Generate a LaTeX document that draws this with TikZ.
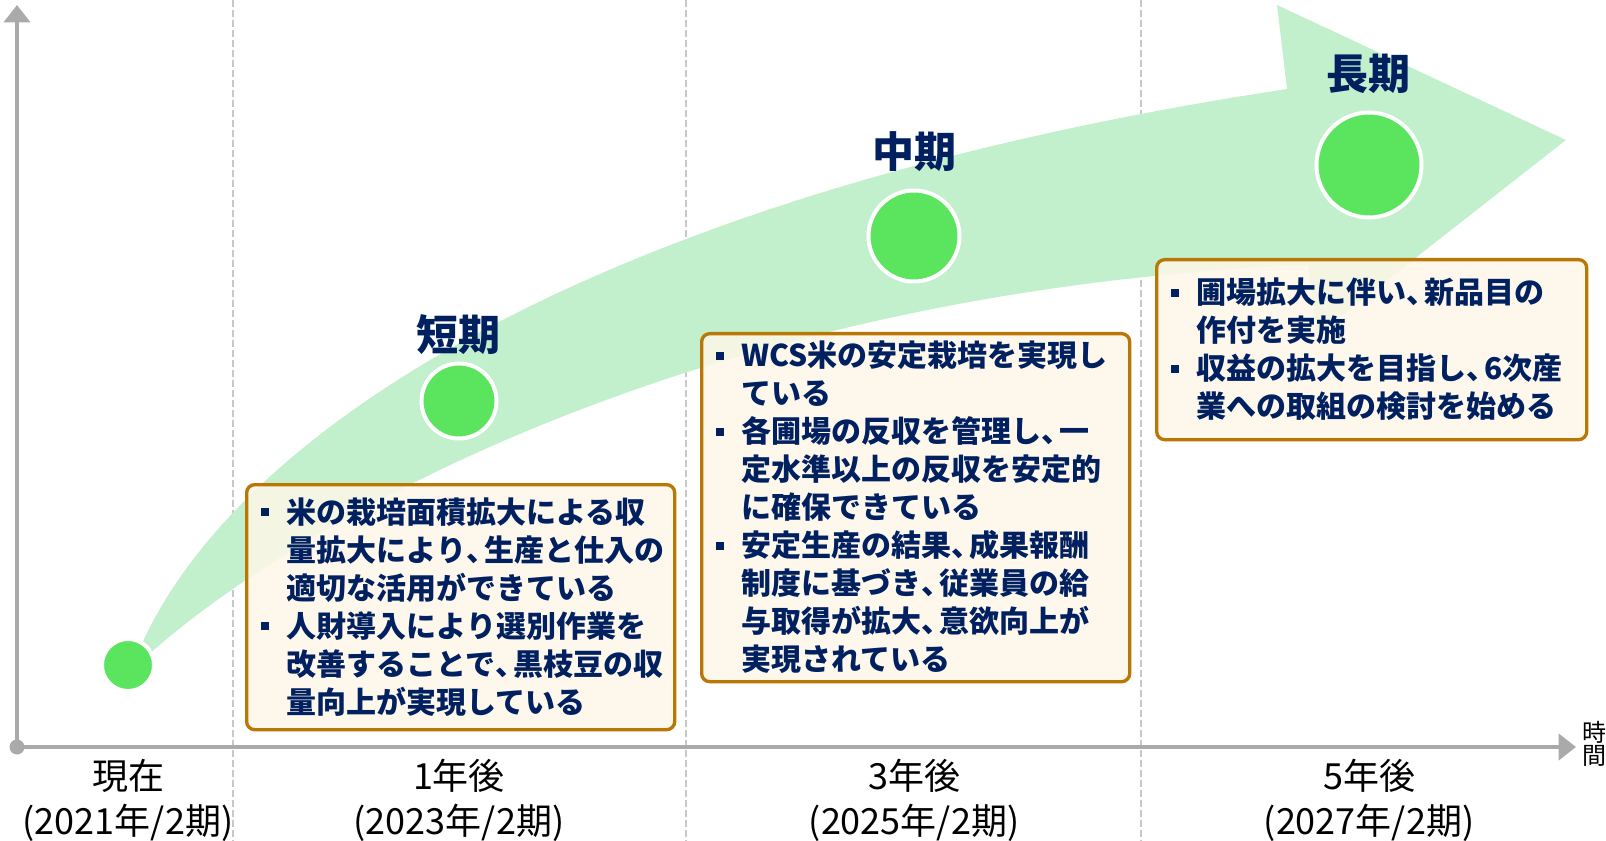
\documentclass[tikz,border=0pt]{standalone}
\usepackage{fontspec}
\setmainfont{Noto Sans CJK JP}
\usetikzlibrary{arrows.meta}

\definecolor{navy}{RGB}{0,32,96}
\definecolor{arrowgreen}{RGB}{195,240,204}
\definecolor{dotgreen}{RGB}{91,228,94}
\definecolor{memoline}{RGB}{185,120,5}
\definecolor{memofill}{RGB}{254,246,233}
\definecolor{axisgray}{RGB}{170,170,170}
\definecolor{dashgray}{RGB}{200,200,200}

\newcommand{\bul}{\leavevmode\llap{\raisebox{5.5pt}{\rule{6pt}{6pt}}\hspace{13.5pt}}}
\newcommand{\tou}{\makebox[0.6em][l]{、}}

\begin{document}
\begin{tikzpicture}[x=0.75pt,y=0.75pt,yscale=-1,xscale=1,
  memo/.style={draw=memoline, line width=2.5pt, rounded corners=6pt, fill=memofill, fill opacity=0.85, text opacity=1, text=navy, font=\bfseries\fontsize{22.5}{28.5}\selectfont, align=left, inner xsep=30pt, inner ysep=0pt, anchor=north west},
  milestone/.style={circle, fill=dotgreen, draw=white, line width=3pt, inner sep=0pt},
  term/.style={text=navy, font=\bfseries\fontsize{31.5}{31.5}\selectfont, inner sep=0.75pt},
  period/.style={align=center, font=\fontsize{27}{33.75}\selectfont, inner sep=0.75pt},
  axis/.style={draw=axisgray, line width=3pt, -{Triangle[length=13pt,width=19.5pt]}},
  grid/.style={draw=dashgray, line width=1.5pt, dash pattern=on 5.25pt off 2.25pt}]
\useasboundingbox (0,0) rectangle (1606,841);

%Straight Lines: year separators
\foreach \xx in {233,686,1141}
  \draw [grid] (\xx,0) -- (\xx,841) ;

%Shape: Curved Arrow
\fill [arrowgreen] (140,648) .. controls (240,420) and (620,190) .. (1287,89) -- (1277,5) -- (1566,140) -- (1317,335) -- (1308,265) .. controls (700,290) and (300,520) .. (148,655) -- cycle ;

%Axes
\coordinate (o) at (17,747);
\coordinate (ytop) at (17,5);
\coordinate (xend) at (1576,747);
\draw [axis] (o) -- (ytop) ;
\draw [axis] (o) -- (xend) ;
\fill [axisgray] (o) circle (7.5) ;

%Shape: Circles
\node [milestone, minimum size=39pt] (now) at (128,665) {};
\node [milestone, minimum size=56.25pt] (short) at (459,401) {};
\node [milestone, minimum size=68.25pt] (mid) at (914,236) {};
\node [milestone, minimum size=78.75pt] (long) at (1369,165) {};

% Text Node
\node [term] (shortlbl) at (458,335) {短期};
\node [term] (midlbl) at (914,152) {中期};
\node [term] (longlbl) at (1368,74) {長期};

%Shape: Rounded Rectangles
\node [memo, text width=261pt, minimum height=183.75pt] (memo1) at (245,483) {%
\bul 米の栽培面積拡大による収\\
量拡大により\tou 生産と仕入の\\
適切な活用ができている\\
\bul 人財導入により選別作業を\\
改善することで\tou 黒枝豆の収\\
量向上が実現している};
\node [memo, text width=261pt, minimum height=261pt] (memo2) at (700,332) {%
\bul WCS米の安定栽培を実現し\\
ている\\
\bul 各圃場の反収を管理し\tou 一\\
定水準以上の反収を安定的\\
に確保できている\\
\bul 安定生産の結果\tou 成果報酬\\
制度に基づき\tou 従業員の給\\
与取得が拡大\tou 意欲向上が\\
実現されている};
\node [memo, text width=262.5pt, minimum height=135pt] (memo3) at (1155,258) {%
\bul 圃場拡大に伴い\tou 新品目の\\
作付を実施\\
\bul 収益の拡大を目指し\tou 6次産\\
業への取組の検討を始める};

% Text Node
\node [period] (p0) at (128,800) {現在\\(2021年/2期)};
\node [period] (p1) at (459,800) {1年後\\(2023年/2期)};
\node [period] (p3) at (914,800) {3年後\\(2025年/2期)};
\node [period] (p5) at (1369,800) {5年後\\(2027年/2期)};
\node [align=center, font=\fontsize{18}{17.6}\selectfont, inner sep=0pt] (timelbl) at (1594,744) {時\\間};

\end{tikzpicture}
\end{document}
